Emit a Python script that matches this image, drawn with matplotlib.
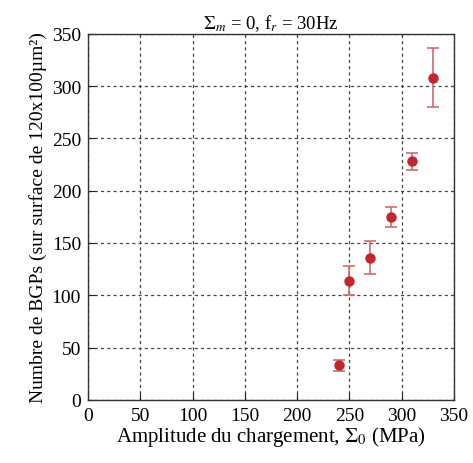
import matplotlib
matplotlib.use("Agg")
import matplotlib.pyplot as plt

plt.rcParams['font.family'] = ['Liberation Serif', 'DejaVu Serif']
plt.rcParams['mathtext.fontset'] = 'stix'

# Data
amplitude = [240, 250, 270, 290, 310, 330]
nb_bgps = [33, 114, 136, 175, 228, 308]
err = [5, 14, 16, 9.5, 8, 28]

fig = plt.figure(figsize=(4.73, 4.64), dpi=100)
ax = fig.add_axes([0.186, 0.136, 0.774, 0.789])

ax.errorbar(amplitude, nb_bgps, yerr=err, fmt='o', color='#c1272d',
            ecolor='#d36a6e', elinewidth=1.2, capsize=4, capthick=1.2,
            markersize=6.5, zorder=3)

ax.set_xlim(0, 350)
ax.set_ylim(0, 350)
ax.set_xticks(range(0, 351, 50))
ax.set_yticks(range(0, 351, 50))
ax.grid(True, color='#444444', linestyle=(0, (2.5, 2.5)), linewidth=0.9)
ax.tick_params(direction='in', length=5, labelsize=14, pad=5, color='#222222')
for s in ax.spines.values():
    s.set_linewidth(1.0)
    s.set_color('#333333')

ax.set_xlabel(r"Amplitude du chargement, $\Sigma_0$ (MPa)", fontsize=15, labelpad=0)
ax.set_ylabel("Numbre de BGPs (sur surface de 120x100µm²)", fontsize=14, labelpad=3)
ax.set_title(r"$\Sigma_{m}$ = 0, f$_{r}$ = 30Hz", fontsize=13.5, pad=4)

fig.savefig("out.png", dpi=100)
